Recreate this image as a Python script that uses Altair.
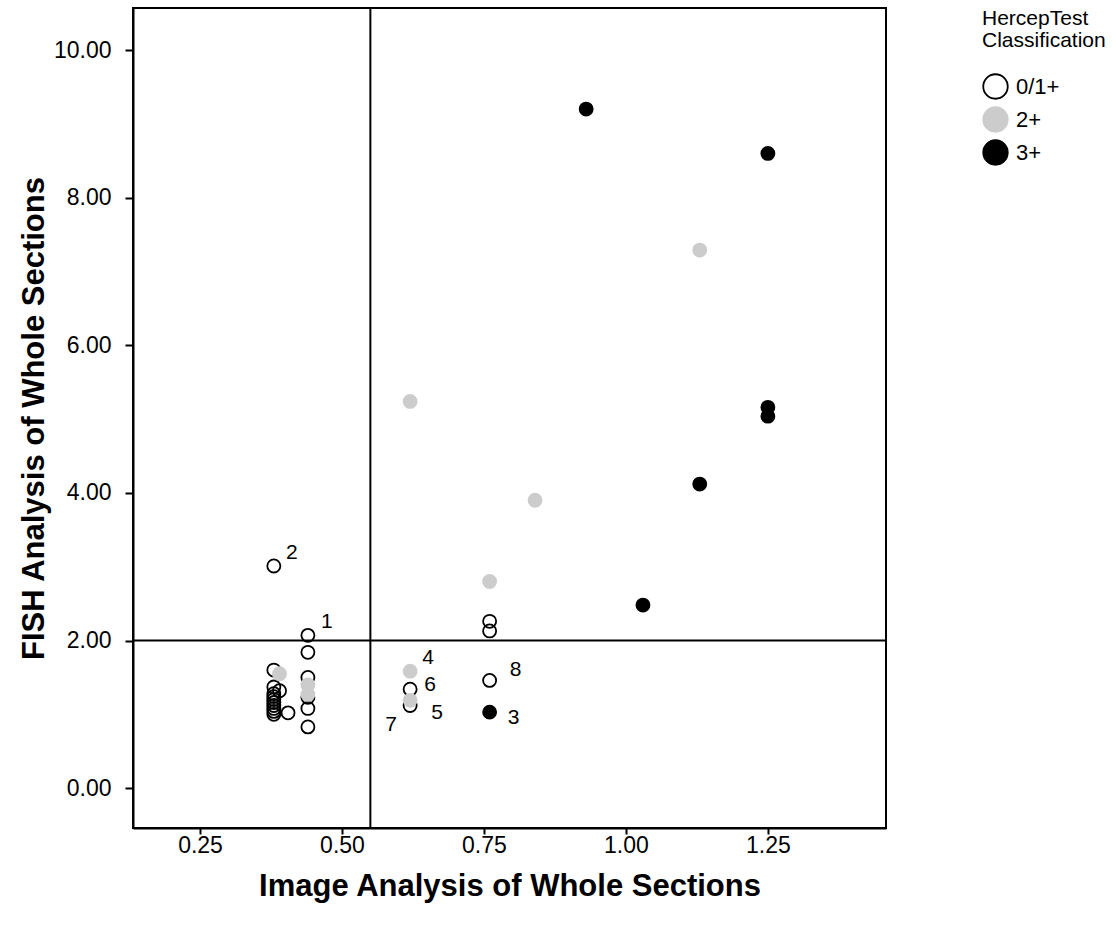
import altair as alt
import pandas as pd

# Image analysis score (x) and FISH ratio (y) per case, grouped by HercepTest class
open_x = [0.38, 0.38, 0.38, 0.38, 0.38, 0.38, 0.38, 0.38, 0.38, 0.38, 0.38,
          0.39, 0.405,
          0.44, 0.44, 0.44, 0.44, 0.44, 0.44,
          0.62, 0.62,
          0.76, 0.76, 0.76]
open_y = [3.01, 1.60, 1.37, 1.28, 1.24, 1.20, 1.16, 1.12, 1.08, 1.04, 1.00,
          1.32, 1.02,
          2.07, 1.84, 1.50, 1.23, 1.08, 0.83,
          1.34, 1.12,
          2.26, 2.13, 1.46]
open_case = ["2", "", "", "", "", "", "", "", "", "", "",
             "", "",
             "1", "", "", "", "", "",
             "6", "7",
             "", "", "8"]

grey_x = [0.39, 0.44, 0.44, 0.62, 0.62, 0.62, 0.84, 0.76, 1.13]
grey_y = [1.55, 1.40, 1.27, 5.24, 1.585, 1.19, 3.90, 2.80, 7.29]
grey_case = ["", "", "", "", "4", "5", "", "", ""]

black_x = [0.93, 1.25, 1.25, 1.25, 1.13, 1.03, 0.76]
black_y = [9.20, 8.60, 5.16, 5.04, 4.12, 2.48, 1.03]
black_case = ["", "", "", "", "", "", "3"]

classes = ["0/1+", "2+", "3+"]

# Cut-off lines: image analysis threshold and FISH amplification ratio
x_cutoff = [0.55]
y_cutoff = [2.0]

x_ticks = [0.25, 0.50, 0.75, 1.00, 1.25]
y_ticks = [0, 2, 4, 6, 8, 10]

rows = []
for xs, ys, cs, cls in [(open_x, open_y, open_case, classes[0]),
                        (grey_x, grey_y, grey_case, classes[1]),
                        (black_x, black_y, black_case, classes[2])]:
    for xv, yv, cv in zip(xs, ys, cs):
        rows.append({"ia": xv, "fish": yv, "cls": cls, "case": cv})
df = pd.DataFrame(rows)

FONT = "Liberation Sans"

x_scale = alt.Scale(domain=[0.132, 1.458], nice=False, zero=False)
y_scale = alt.Scale(domain=[-0.54, 10.57], nice=False, zero=False)

x_axis = alt.Axis(values=x_ticks, format=".2f", grid=False,
                  title="Image Analysis of Whole Sections",
                  tickSize=6, labelPadding=0, titlePadding=14)
y_axis = alt.Axis(values=y_ticks, format=".2f", grid=False,
                  title="FISH Analysis of Whole Sections",
                  tickSize=8, labelPadding=14, titlePadding=3)

x_enc = alt.X("ia:Q", scale=x_scale, axis=x_axis)
y_enc = alt.Y("fish:Q", scale=y_scale, axis=y_axis)

legend = alt.Legend(title=["HercepTest", "Classification"])

points = alt.Chart(df).mark_point(
    shape="circle", size=170, strokeWidth=1.8, opacity=1
).encode(
    x=x_enc,
    y=y_enc,
    fill=alt.Fill("cls:N",
                  scale=alt.Scale(domain=classes,
                                  range=["transparent", "#cccccc", "#000000"]),
                  legend=legend),
    stroke=alt.Stroke("cls:N",
                      scale=alt.Scale(domain=classes,
                                      range=["#000000", "#cccccc", "#000000"]),
                      legend=legend),
)

vline = alt.Chart(pd.DataFrame({"v": x_cutoff})).mark_rule(
    color="black", strokeWidth=2
).encode(x=alt.X("v:Q", scale=x_scale, axis=x_axis))

hline = alt.Chart(pd.DataFrame({"v": y_cutoff})).mark_rule(
    color="black", strokeWidth=2
).encode(y=alt.Y("v:Q", scale=y_scale, axis=y_axis))

# Case numbers, each nudged off its point
nudges = {"1": (19, -13), "2": (18, -13), "3": (24, 6), "4": (18, -13),
          "5": (27, 13), "6": (20, -4), "7": (-19, 20), "8": (26, -10)}
label_layers = []
for case, (ddx, ddy) in nudges.items():
    label_layers.append(
        alt.Chart(df).transform_filter(alt.datum.case == case).mark_text(
            font=FONT, fontSize=21, color="black", dx=ddx, dy=ddy,
            align="center", baseline="middle"
        ).encode(x=x_enc, y=y_enc, text="case:N")
    )

chart = alt.layer(vline, hline, points, *label_layers).properties(
    width=753, height=820,
    autosize=alt.AutoSizeParams(type="none"),
    padding={"left": 133, "top": 8, "right": 230, "bottom": 104},
).configure_view(
    stroke="black", strokeWidth=2
).configure_axis(
    domainColor="black", domainWidth=2, tickColor="black", tickWidth=2,
    labelFont=FONT, labelFontSize=23, labelColor="black",
    titleFont=FONT, titleFontSize=31, titleFontWeight="bold", titleColor="black",
).configure_legend(
    orient="none", legendX=849, legendY=0, padding=0,
    titleFont=FONT, titleFontSize=21, titleFontWeight="normal", titleColor="black",
    titleAlign="left", titleAnchor="start", titleLineHeight=22,
    titlePadding=22,
    labelFont=FONT, labelFontSize=22, labelColor="black",
    symbolSize=600, symbolStrokeWidth=1.8, rowPadding=0, labelOffset=7,
)

chart.save("out.html", embed_options={"renderer": "svg", "actions": False})
